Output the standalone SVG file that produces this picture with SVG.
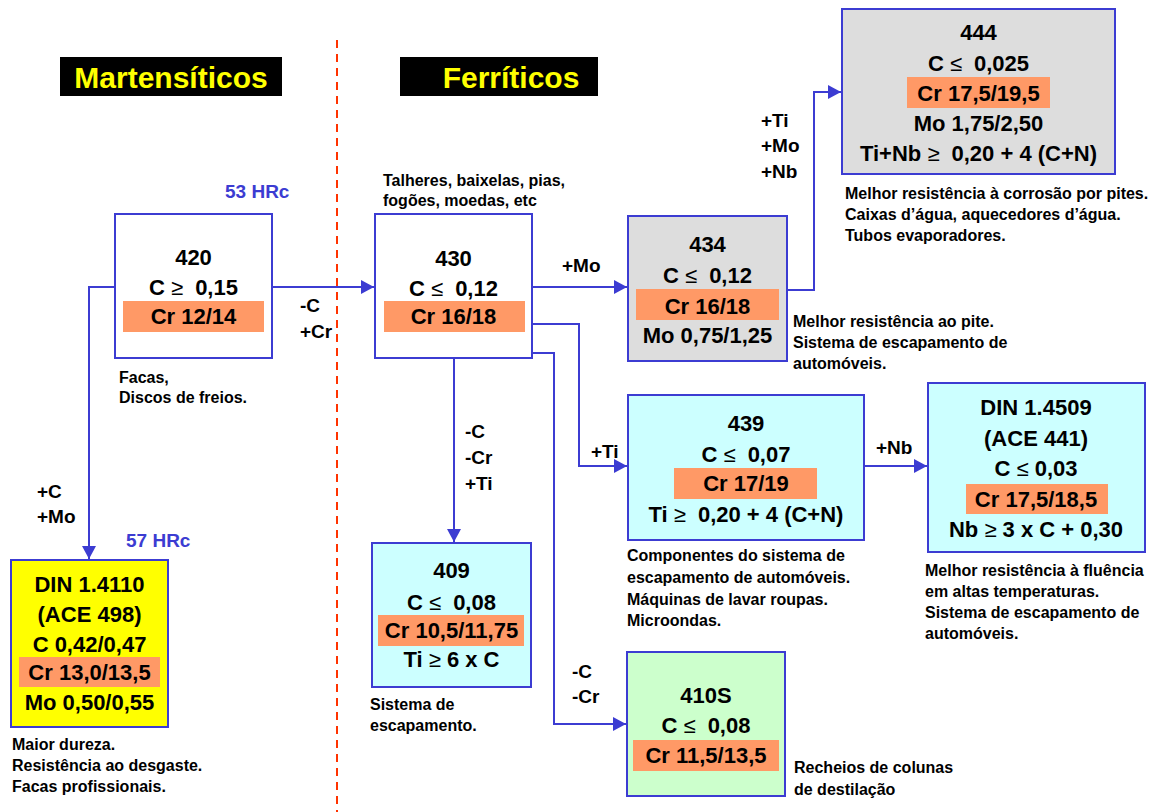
<svg xmlns="http://www.w3.org/2000/svg" width="1157" height="812" viewBox="0 0 1157 812">
<style>
text{font-family:"Liberation Sans",Arial,sans-serif;font-weight:bold;fill:#000}
.n{font-size:22px;text-anchor:middle}
.d{font-size:16px}
.l{font-size:19px}
.h{font-size:19px;fill:#3c3cd2}
.t{font-size:30px;fill:#ffff00;text-anchor:middle}
.s{font-weight:normal}
.box{stroke:#3c3cd2;stroke-width:2}
.cr{fill:#ff9966}
.c{fill:none;stroke:#3c3cd2;stroke-width:2}
</style>
<defs>
<marker id="ar" markerUnits="userSpaceOnUse" markerWidth="14" markerHeight="14" refX="13" refY="7" orient="auto">
<path d="M0,0 L13,7 L0,14 z" fill="#3c3cd2"/>
</marker>
</defs>
<rect width="1157" height="812" fill="#fff"/>
<g id="headers">
<rect x="60" y="57" width="222" height="39" fill="#000"/>
<text class="t" x="171" y="88">Martensíticos</text>
<rect x="400" y="57" width="198" height="39" fill="#000"/>
<text class="t" x="511" y="88">Ferríticos</text>
<line x1="337" y1="40" x2="337" y2="812" stroke="#ff3300" stroke-width="2" stroke-dasharray="8,6"/>
</g>
<g id="connectors">
<path class="c" d="M272,287 H374" marker-end="url(#ar)"/>
<path class="c" d="M115,287 H89 V559" marker-end="url(#ar)"/>
<path class="c" d="M532,287 H627" marker-end="url(#ar)"/>
<path class="c" d="M787,290 H814 V92 H841" marker-end="url(#ar)"/>
<path class="c" d="M532,324 H579 V466 H627" marker-end="url(#ar)"/>
<path class="c" d="M864,466 H927" marker-end="url(#ar)"/>
<path class="c" d="M454,358 V542" marker-end="url(#ar)"/>
<path class="c" d="M532,353 H554 V724 H626" marker-end="url(#ar)"/>
<text class="l" x="300" y="312">-C</text>
<text class="l" x="300" y="338">+Cr</text>
<text class="l" x="37" y="498">+C</text>
<text class="l" x="37" y="523">+Mo</text>
<text class="l" x="562" y="272">+Mo</text>
<text class="l" x="761" y="127">+Ti</text>
<text class="l" x="761" y="152">+Mo</text>
<text class="l" x="761" y="178">+Nb</text>
<text class="l" x="591" y="458">+Ti</text>
<text class="l" x="876" y="454">+Nb</text>
<text class="l" x="465" y="438">-C</text>
<text class="l" x="465" y="464">-Cr</text>
<text class="l" x="465" y="490">+Ti</text>
<text class="l" x="572" y="678">-C</text>
<text class="l" x="572" y="703">-Cr</text>
<text class="h" x="225" y="198">53 HRc</text>
<text class="h" x="126" y="547">57 HRc</text>
</g>
<g id="n420">
<rect class="box" x="115" y="214" width="157" height="144" fill="#fff"/>
<rect class="cr" x="123" y="301" width="141" height="31"/>
<text class="n" x="193.5" y="265">420</text>
<text class="n" x="193.5" y="295">C <tspan class="s">≥</tspan><tspan dx="12">0,15</tspan></text>
<text class="n" x="193.5" y="324">Cr 12/14</text>
<text class="d" x="119" y="383">Facas,</text>
<text class="d" x="119" y="403">Discos de freios.</text>
</g>
<g id="n430">
<rect class="box" x="375" y="214" width="157" height="144" fill="#fff"/>
<rect class="cr" x="384" y="301" width="141" height="31"/>
<text class="n" x="453.5" y="266">430</text>
<text class="n" x="453.5" y="296">C <tspan class="s">≤</tspan><tspan dx="12">0,12</tspan></text>
<text class="n" x="453.5" y="324">Cr 16/18</text>
<text class="d" x="383" y="186">Talheres, baixelas, pias,</text>
<text class="d" x="383" y="206">fogões, moedas, etc</text>
</g>
<g id="n434">
<rect class="box" x="628" y="216" width="159" height="145" fill="#dddddd"/>
<rect class="cr" x="636" y="289" width="143" height="31"/>
<text class="n" x="707.5" y="252">434</text>
<text class="n" x="707.5" y="283">C <tspan class="s">≤</tspan><tspan dx="12">0,12</tspan></text>
<text class="n" x="707.5" y="314">Cr 16/18</text>
<text class="n" x="707.5" y="343">Mo 0,75/1,25</text>
<text class="d" x="793" y="327">Melhor resistência ao pite.</text>
<text class="d" x="793" y="348">Sistema de escapamento de</text>
<text class="d" x="793" y="369">automóveis.</text>
</g>
<g id="n444">
<rect class="box" x="842" y="9" width="273" height="165" fill="#dddddd"/>
<rect class="cr" x="907" y="77" width="143" height="31"/>
<text class="n" x="978.5" y="40">444</text>
<text class="n" x="978.5" y="71">C <tspan class="s">≤</tspan><tspan dx="12">0,025</tspan></text>
<text class="n" x="978.5" y="101">Cr 17,5/19,5</text>
<text class="n" x="978.5" y="131">Mo 1,75/2,50</text>
<text class="n" x="978.5" y="161">Ti+Nb <tspan class="s">≥</tspan><tspan dx="12">0,20 + 4 (C+N)</tspan></text>
<text class="d" x="845" y="199">Melhor resistência à corrosão por pites.</text>
<text class="d" x="845" y="220">Caixas d’água, aquecedores d’água.</text>
<text class="d" x="845" y="241">Tubos evaporadores.</text>
</g>
<g id="n439">
<rect class="box" x="628" y="395" width="236" height="145" fill="#ccffff"/>
<rect class="cr" x="674" y="468" width="143" height="31"/>
<text class="n" x="746" y="431">439</text>
<text class="n" x="746" y="462">C <tspan class="s">≤</tspan><tspan dx="12">0,07</tspan></text>
<text class="n" x="746" y="491">Cr 17/19</text>
<text class="n" x="746" y="522">Ti <tspan class="s">≥</tspan><tspan dx="12">0,20 + 4 (C+N)</tspan></text>
<text class="d" x="627" y="561">Componentes do sistema de</text>
<text class="d" x="627" y="583">escapamento de automóveis.</text>
<text class="d" x="627" y="605">Máquinas de lavar roupas.</text>
<text class="d" x="627" y="626">Microondas.</text>
</g>
<g id="n1_4509">
<rect class="box" x="928" y="383" width="217" height="169" fill="#ccffff"/>
<rect class="cr" x="966" y="484" width="142" height="30"/>
<text class="n" x="1036" y="415">DIN 1.4509</text>
<text class="n" x="1036" y="446">(ACE 441)</text>
<text class="n" x="1036" y="476">C <tspan class="s">≤</tspan> 0,03</text>
<text class="n" x="1036" y="507">Cr 17,5/18,5</text>
<text class="n" x="1036" y="537">Nb <tspan class="s">≥</tspan> 3 x C + 0,30</text>
<text class="d" x="925" y="576">Melhor resistência à fluência</text>
<text class="d" x="925" y="597">em altas temperaturas.</text>
<text class="d" x="925" y="618">Sistema de escapamento de</text>
<text class="d" x="925" y="639">automóveis.</text>
</g>
<g id="n1_4110">
<rect class="box" x="11" y="560" width="157" height="167" fill="#ffff00"/>
<rect class="cr" x="19" y="657" width="141" height="30"/>
<text class="n" x="89.5" y="592">DIN 1.4110</text>
<text class="n" x="89.5" y="622">(ACE 498)</text>
<text class="n" x="89.5" y="652">C 0,42/0,47</text>
<text class="n" x="89.5" y="680">Cr 13,0/13,5</text>
<text class="n" x="89.5" y="710">Mo 0,50/0,55</text>
<text class="d" x="12" y="750">Maior dureza.</text>
<text class="d" x="12" y="771">Resistência ao desgaste.</text>
<text class="d" x="12" y="792">Facas profissionais.</text>
</g>
<g id="n409">
<rect class="box" x="372" y="543" width="159" height="144" fill="#ccffff"/>
<rect class="cr" x="378" y="615" width="146" height="31"/>
<text class="n" x="451.5" y="578">409</text>
<text class="n" x="451.5" y="610">C <tspan class="s">≤</tspan><tspan dx="12">0,08</tspan></text>
<text class="n" x="451.5" y="638">Cr 10,5/11,75</text>
<text class="n" x="451.5" y="667">Ti <tspan class="s">≥</tspan> 6 x C</text>
<text class="d" x="370" y="710">Sistema de</text>
<text class="d" x="370" y="731">escapamento.</text>
</g>
<g id="n410S">
<rect class="box" x="627" y="652" width="158" height="144" fill="#ccffcc"/>
<rect class="cr" x="633" y="740" width="146" height="31"/>
<text class="n" x="706" y="703">410S</text>
<text class="n" x="706" y="733">C <tspan class="s">≤</tspan><tspan dx="12">0,08</tspan></text>
<text class="n" x="706" y="763">Cr 11,5/13,5</text>
<text class="d" x="794" y="773">Recheios de colunas</text>
<text class="d" x="794" y="795">de destilação</text>
</g>
</svg>
